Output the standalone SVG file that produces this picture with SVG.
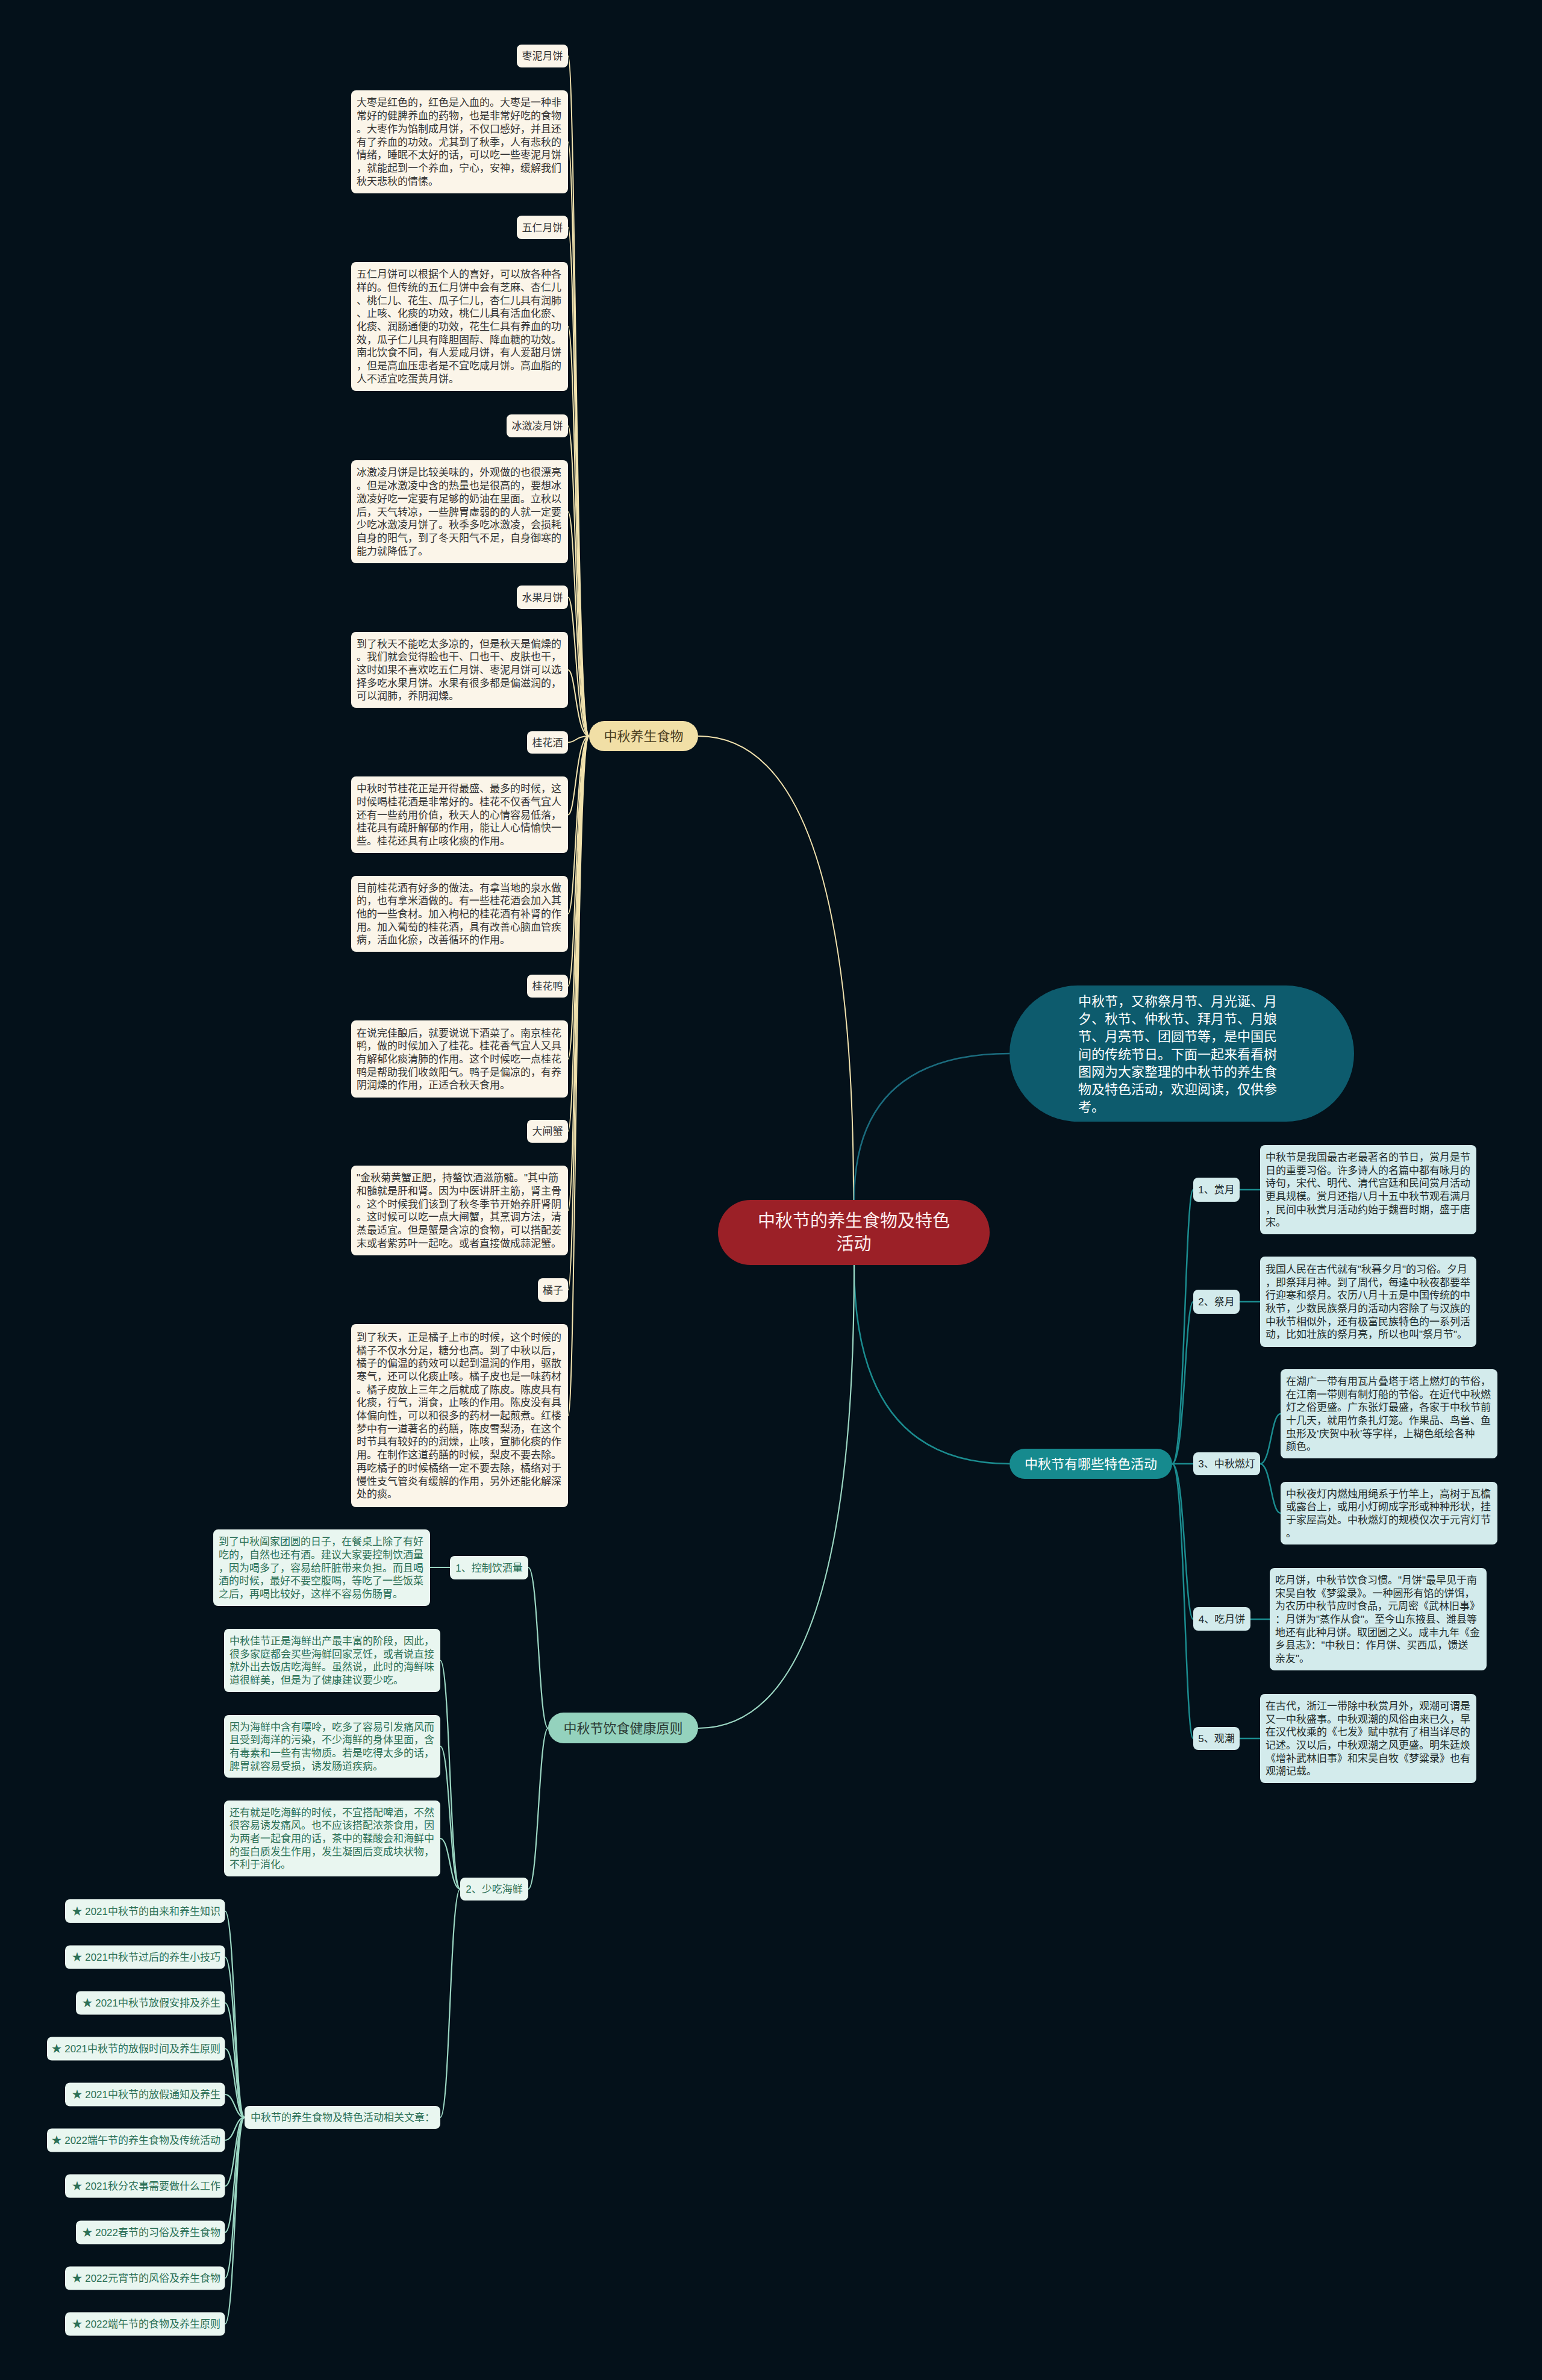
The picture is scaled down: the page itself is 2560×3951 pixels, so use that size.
<svg xmlns="http://www.w3.org/2000/svg" width="2560" height="3951" viewBox="0 0 2560 3951">
<style>
text{font-family:'Liberation Sans','Noto Sans CJK SC',sans-serif;}
.t17{font-size:17px;}
.food-box{fill:#fbf5e9;}
.food-t{fill:#333333;font-size:17px;}
.act-box{fill:#d3ebec;}
.act-t{fill:#1f2b2b;font-size:17px;}
.hl-box{fill:#e9f6f0;}
.hl-t{fill:#2c7056;font-size:17px;}
.c-food{fill:none;stroke:#f1e2ae;stroke-width:2;}
.c-act{fill:none;stroke:#1b8c8f;stroke-width:2.5;}
.c-intro{fill:none;stroke:#1b6c7e;stroke-width:2.5;}
.c-hl{fill:none;stroke:#9bd6c2;stroke-width:2.2;}
</style>
<rect x="0" y="0" width="2560" height="3951" fill="#04111a"/>

<g id="connectors">
  <path class="c-food" d="M1417,1992 Q1417,1222 1159,1222"/>
  <path class="c-intro" d="M1418,1992 Q1418,1749 1676,1749"/>
  <path class="c-act" d="M1418,2100 Q1418,2430 1676,2430"/>
  <path class="c-hl" d="M1418,2100 Q1418,2869 1159,2869"/>

  <path class="c-food" d="M978,1222 C956,1222 956,93 943,93"/>
  <path class="c-food" d="M978,1222 C956,1222 956,235.5 943,235.5"/>
  <path class="c-food" d="M978,1222 C956,1222 956,377.5 943,377.5"/>
  <path class="c-food" d="M978,1222 C956,1222 956,542 943,542"/>
  <path class="c-food" d="M978,1222 C956,1222 956,707 943,707"/>
  <path class="c-food" d="M978,1222 C956,1222 956,849.5 943,849.5"/>
  <path class="c-food" d="M978,1222 C956,1222 956,991.5 943,991.5"/>
  <path class="c-food" d="M978,1222 C956,1222 956,1112 943,1112"/>
  <path class="c-food" d="M978,1222 C956,1222 956,1232.5 943,1232.5"/>
  <path class="c-food" d="M978,1222 C956,1222 956,1352.5 943,1352.5"/>
  <path class="c-food" d="M978,1222 C956,1222 956,1517 943,1517"/>
  <path class="c-food" d="M978,1222 C956,1222 956,1637 943,1637"/>
  <path class="c-food" d="M978,1222 C956,1222 956,1758 943,1758"/>
  <path class="c-food" d="M978,1222 C956,1222 956,1878 943,1878"/>
  <path class="c-food" d="M978,1222 C956,1222 956,2009.5 943,2009.5"/>
  <path class="c-food" d="M978,1222 C956,1222 956,2141.5 943,2141.5"/>
  <path class="c-food" d="M978,1222 C956,1222 956,2350 943,2350"/>

  <path class="c-act" d="M1946,2430 C1967,2430 1967,1975 1981,1975"/>
  <path class="c-act" d="M1946,2430 C1967,2430 1967,2161 1981,2161"/>
  <path class="c-act" d="M1946,2430 L1981,2430"/>
  <path class="c-act" d="M1946,2430 C1967,2430 1967,2688 1981,2688"/>
  <path class="c-act" d="M1946,2430 C1967,2430 1967,2886 1981,2886"/>
  <path class="c-act" d="M2058,1975 L2092,1975"/>
  <path class="c-act" d="M2058,2161 L2092,2161"/>
  <path class="c-act" d="M2092,2430 C2110,2430 2110,2347 2126,2347"/>
  <path class="c-act" d="M2092,2430 C2110,2430 2110,2512 2126,2512"/>
  <path class="c-act" d="M2076,2688 L2108,2688"/>
  <path class="c-act" d="M2058,2886 L2092,2886"/>

  <path class="c-hl" d="M910,2869 C894,2869 894,2602 877,2602"/>
  <path class="c-hl" d="M910,2869 C894,2869 894,3136 877,3136"/>
  <path class="c-hl" d="M747,2602 L714,2602"/>
  <path class="c-hl" d="M764,3136 C747,3136 747,2756.5 731,2756.5"/>
  <path class="c-hl" d="M764,3136 C747,3136 747,2899 731,2899"/>
  <path class="c-hl" d="M764,3136 C747,3136 747,3052 731,3052"/>
  <path class="c-hl" d="M764,3136 C747,3136 747,3515 731,3515"/>
  <path class="c-hl" d="M406,3515 C390,3515 390,3172.5 373.5,3172.5"/>
  <path class="c-hl" d="M406,3515 C390,3515 390,3249 373.5,3249"/>
  <path class="c-hl" d="M406,3515 C390,3515 390,3325 373.5,3325"/>
  <path class="c-hl" d="M406,3515 C390,3515 390,3401 373.5,3401"/>
  <path class="c-hl" d="M406,3515 C390,3515 390,3477 373.5,3477"/>
  <path class="c-hl" d="M406,3515 C390,3515 390,3553 373.5,3553"/>
  <path class="c-hl" d="M406,3515 C390,3515 390,3629 373.5,3629"/>
  <path class="c-hl" d="M406,3515 C390,3515 390,3706 373.5,3706"/>
  <path class="c-hl" d="M406,3515 C390,3515 390,3782 373.5,3782"/>
  <path class="c-hl" d="M406,3515 C390,3515 390,3858 373.5,3858"/>
</g>

<g id="main">
  <rect x="1192" y="1992" width="451" height="108" rx="54" fill="#9b2027"/>
  <text x="1417.5" y="2037" font-size="29" fill="#fdeeee" text-anchor="middle">中秋节的养生食物及特色</text>
  <text x="1417.5" y="2075" font-size="29" fill="#fdeeee" text-anchor="middle">活动</text>
</g>

<g id="intro">
  <rect x="1676" y="1636" width="572" height="226" rx="113" fill="#0d5b6d"/>
  <text font-size="22" fill="#ffffff">
    <tspan x="1790" y="1670">中秋节，又称祭月节、月光诞、月</tspan>
    <tspan x="1790" dy="29.2">夕、秋节、仲秋节、拜月节、月娘</tspan>
    <tspan x="1790" dy="29.2">节、月亮节、团圆节等，是中国民</tspan>
    <tspan x="1790" dy="29.2">间的传统节日。下面一起来看看树</tspan>
    <tspan x="1790" dy="29.2">图网为大家整理的中秋节的养生食</tspan>
    <tspan x="1790" dy="29.2">物及特色活动，欢迎阅读，仅供参</tspan>
    <tspan x="1790" dy="29.2">考。</tspan>
  </text>
</g>

<g id="food">
  <rect x="978" y="1197" width="181" height="50" rx="25" fill="#f1dfa6"/>
  <text x="1068.5" y="1230" font-size="22" fill="#4a3d1e" text-anchor="middle">中秋养生食物</text>
</g>

<g id="food-zaoni">
  <rect class="food-box" x="858" y="74" width="85" height="38" rx="8"/>
  <text class="food-t" x="900.5" y="99" text-anchor="middle">枣泥月饼</text>
</g>
<g id="food-zaoni-text">
  <rect class="food-box" x="583" y="150" width="360" height="171" rx="8"/>
  <text class="food-t">
    <tspan x="592" y="176.4">大枣是红色的，红色是入血的。大枣是一种非</tspan>
    <tspan x="592" dy="21.7">常好的健脾养血的药物，也是非常好吃的食物</tspan>
    <tspan x="592" dy="21.7">。大枣作为馅制成月饼，不仅口感好，并且还</tspan>
    <tspan x="592" dy="21.7">有了养血的功效。尤其到了秋季，人有悲秋的</tspan>
    <tspan x="592" dy="21.7">情绪，睡眠不太好的话，可以吃一些枣泥月饼</tspan>
    <tspan x="592" dy="21.7">，就能起到一个养血，宁心，安神，缓解我们</tspan>
    <tspan x="592" dy="21.7">秋天悲秋的情愫。</tspan>
  </text>
</g>
<g id="food-wuren">
  <rect class="food-box" x="858" y="358" width="85" height="39" rx="8"/>
  <text class="food-t" x="900.5" y="383.5" text-anchor="middle">五仁月饼</text>
</g>
<g id="food-wuren-text">
  <rect class="food-box" x="583" y="435" width="360" height="214" rx="8"/>
  <text class="food-t">
    <tspan x="592" y="461.2">五仁月饼可以根据个人的喜好，可以放各种各</tspan>
    <tspan x="592" dy="21.7">样的。但传统的五仁月饼中会有芝麻、杏仁儿</tspan>
    <tspan x="592" dy="21.7">、桃仁儿、花生、瓜子仁儿，杏仁儿具有润肺</tspan>
    <tspan x="592" dy="21.7">、止咳、化痰的功效，桃仁儿具有活血化瘀、</tspan>
    <tspan x="592" dy="21.7">化痰、润肠通便的功效，花生仁具有养血的功</tspan>
    <tspan x="592" dy="21.7">效，瓜子仁儿具有降胆固醇、降血糖的功效。</tspan>
    <tspan x="592" dy="21.7">南北饮食不同，有人爱咸月饼，有人爱甜月饼</tspan>
    <tspan x="592" dy="21.7">，但是高血压患者是不宜吃咸月饼。高血脂的</tspan>
    <tspan x="592" dy="21.7">人不适宜吃蛋黄月饼。</tspan>
  </text>
</g>
<g id="food-bingjiling">
  <rect class="food-box" x="841" y="688" width="102" height="38" rx="8"/>
  <text class="food-t" x="892" y="713" text-anchor="middle">冰激凌月饼</text>
</g>
<g id="food-bingjiling-text">
  <rect class="food-box" x="583" y="764" width="360" height="171" rx="8"/>
  <text class="food-t">
    <tspan x="592" y="790.4">冰激凌月饼是比较美味的，外观做的也很漂亮</tspan>
    <tspan x="592" dy="21.7">。但是冰激凌中含的热量也是很高的，要想冰</tspan>
    <tspan x="592" dy="21.7">激凌好吃一定要有足够的奶油在里面。立秋以</tspan>
    <tspan x="592" dy="21.7">后，天气转凉，一些脾胃虚弱的的人就一定要</tspan>
    <tspan x="592" dy="21.7">少吃冰激凌月饼了。秋季多吃冰激凌，会损耗</tspan>
    <tspan x="592" dy="21.7">自身的阳气，到了冬天阳气不足，自身御寒的</tspan>
    <tspan x="592" dy="21.7">能力就降低了。</tspan>
  </text>
</g>
<g id="food-shuiguo">
  <rect class="food-box" x="858" y="972" width="85" height="39" rx="8"/>
  <text class="food-t" x="900.5" y="997.5" text-anchor="middle">水果月饼</text>
</g>
<g id="food-shuiguo-text">
  <rect class="food-box" x="583" y="1049" width="360" height="126" rx="8"/>
  <text class="food-t">
    <tspan x="592" y="1074.6">到了秋天不能吃太多凉的，但是秋天是偏燥的</tspan>
    <tspan x="592" dy="21.7">。我们就会觉得脸也干、口也干、皮肤也干，</tspan>
    <tspan x="592" dy="21.7">这时如果不喜欢吃五仁月饼、枣泥月饼可以选</tspan>
    <tspan x="592" dy="21.7">择多吃水果月饼。水果有很多都是偏滋润的，</tspan>
    <tspan x="592" dy="21.7">可以润肺，养阴润燥。</tspan>
  </text>
</g>
<g id="food-guihuajiu">
  <rect class="food-box" x="875" y="1214" width="68" height="37" rx="8"/>
  <text class="food-t" x="909" y="1238.5" text-anchor="middle">桂花酒</text>
</g>
<g id="food-guihuajiu-text1">
  <rect class="food-box" x="583" y="1289" width="360" height="127" rx="8"/>
  <text class="food-t">
    <tspan x="592" y="1315.1">中秋时节桂花正是开得最盛、最多的时候，这</tspan>
    <tspan x="592" dy="21.7">时候喝桂花酒是非常好的。桂花不仅香气宜人</tspan>
    <tspan x="592" dy="21.7">还有一些药用价值，秋天人的心情容易低落，</tspan>
    <tspan x="592" dy="21.7">桂花具有疏肝解郁的作用，能让人心情愉快一</tspan>
    <tspan x="592" dy="21.7">些。桂花还具有止咳化痰的作用。</tspan>
  </text>
</g>
<g id="food-guihuajiu-text2">
  <rect class="food-box" x="583" y="1454" width="360" height="126" rx="8"/>
  <text class="food-t">
    <tspan x="592" y="1479.6">目前桂花酒有好多的做法。有拿当地的泉水做</tspan>
    <tspan x="592" dy="21.7">的，也有拿米酒做的。有一些桂花酒会加入其</tspan>
    <tspan x="592" dy="21.7">他的一些食材。加入枸杞的桂花酒有补肾的作</tspan>
    <tspan x="592" dy="21.7">用。加入葡萄的桂花酒，具有改善心脑血管疾</tspan>
    <tspan x="592" dy="21.7">病，活血化瘀，改善循环的作用。</tspan>
  </text>
</g>
<g id="food-guihuaya">
  <rect class="food-box" x="875" y="1618" width="68" height="38" rx="8"/>
  <text class="food-t" x="909" y="1643" text-anchor="middle">桂花鸭</text>
</g>
<g id="food-guihuaya-text">
  <rect class="food-box" x="583" y="1694" width="360" height="128" rx="8"/>
  <text class="food-t">
    <tspan x="592" y="1720.6">在说完佳酿后，就要说说下酒菜了。南京桂花</tspan>
    <tspan x="592" dy="21.7">鸭，做的时候加入了桂花。桂花香气宜人又具</tspan>
    <tspan x="592" dy="21.7">有解郁化痰清肺的作用。这个时候吃一点桂花</tspan>
    <tspan x="592" dy="21.7">鸭是帮助我们收敛阳气。鸭子是偏凉的，有养</tspan>
    <tspan x="592" dy="21.7">阴润燥的作用，正适合秋天食用。</tspan>
  </text>
</g>
<g id="food-dazhaxie">
  <rect class="food-box" x="875" y="1859" width="68" height="38" rx="8"/>
  <text class="food-t" x="909" y="1884" text-anchor="middle">大闸蟹</text>
</g>
<g id="food-dazhaxie-text">
  <rect class="food-box" x="583" y="1935" width="360" height="149" rx="8"/>
  <text class="food-t">
    <tspan x="592" y="1961.3">"金秋菊黄蟹正肥，持螯饮酒滋筋髓。"其中筋</tspan>
    <tspan x="592" dy="21.7">和髓就是肝和肾。因为中医讲肝主筋，肾主骨</tspan>
    <tspan x="592" dy="21.7">。这个时候我们该到了秋冬季节开始养肝肾阴</tspan>
    <tspan x="592" dy="21.7">。这时候可以吃一点大闸蟹，其烹调方法，清</tspan>
    <tspan x="592" dy="21.7">蒸最适宜。但是蟹是含凉的食物，可以搭配姜</tspan>
    <tspan x="592" dy="21.7">末或者紫苏叶一起吃。或者直接做成蒜泥蟹。</tspan>
  </text>
</g>
<g id="food-juzi">
  <rect class="food-box" x="893" y="2122" width="50" height="39" rx="8"/>
  <text class="food-t" x="918" y="2147.5" text-anchor="middle">橘子</text>
</g>
<g id="food-juzi-text">
  <rect class="food-box" x="583" y="2198" width="360" height="304" rx="8"/>
  <text class="food-t">
    <tspan x="592" y="2225.8">到了秋天，正是橘子上市的时候，这个时候的</tspan>
    <tspan x="592" dy="21.7">橘子不仅水分足，糖分也高。到了中秋以后，</tspan>
    <tspan x="592" dy="21.7">橘子的偏温的药效可以起到温润的作用，驱散</tspan>
    <tspan x="592" dy="21.7">寒气，还可以化痰止咳。橘子皮也是一味药材</tspan>
    <tspan x="592" dy="21.7">。橘子皮放上三年之后就成了陈皮。陈皮具有</tspan>
    <tspan x="592" dy="21.7">化痰，行气，消食，止咳的作用。陈皮没有具</tspan>
    <tspan x="592" dy="21.7">体偏向性，可以和很多的药材一起煎煮。红楼</tspan>
    <tspan x="592" dy="21.7">梦中有一道著名的药膳，陈皮雪梨汤，在这个</tspan>
    <tspan x="592" dy="21.7">时节具有较好的的润燥，止咳，宣肺化痰的作</tspan>
    <tspan x="592" dy="21.7">用。在制作这道药膳的时候，梨皮不要去除。</tspan>
    <tspan x="592" dy="21.7">再吃橘子的时候橘络一定不要去除，橘络对于</tspan>
    <tspan x="592" dy="21.7">慢性支气管炎有缓解的作用，另外还能化解深</tspan>
    <tspan x="592" dy="21.7">处的痰。</tspan>
  </text>
</g>

<g id="activities">
  <rect x="1676" y="2405" width="270" height="50" rx="25" fill="#168a8e"/>
  <text x="1811" y="2438" font-size="22" fill="#ffffff" text-anchor="middle">中秋节有哪些特色活动</text>
</g>
<g id="act-shangyue">
  <rect class="act-box" x="1981" y="1955" width="77" height="40" rx="8"/>
  <text class="act-t" x="2019.5" y="1981" text-anchor="middle">1、赏月</text>
</g>
<g id="act-shangyue-text">
  <rect class="act-box" x="2092" y="1901" width="359" height="148" rx="8"/>
  <text class="act-t">
    <tspan x="2101" y="1926.8">中秋节是我国最古老最著名的节日，赏月是节</tspan>
    <tspan x="2101" dy="21.7">日的重要习俗。许多诗人的名篇中都有咏月的</tspan>
    <tspan x="2101" dy="21.7">诗句，宋代、明代、清代宫廷和民间赏月活动</tspan>
    <tspan x="2101" dy="21.7">更具规模。赏月还指八月十五中秋节观看满月</tspan>
    <tspan x="2101" dy="21.7">，民间中秋赏月活动约始于魏晋时期，盛于唐</tspan>
    <tspan x="2101" dy="21.7">宋。</tspan>
  </text>
</g>
<g id="act-jiyue">
  <rect class="act-box" x="1981" y="2141" width="77" height="40" rx="8"/>
  <text class="act-t" x="2019.5" y="2167" text-anchor="middle">2、祭月</text>
</g>
<g id="act-jiyue-text">
  <rect class="act-box" x="2092" y="2086" width="359" height="150" rx="8"/>
  <text class="act-t">
    <tspan x="2101" y="2112.8">我国人民在古代就有"秋暮夕月"的习俗。夕月</tspan>
    <tspan x="2101" dy="21.7">，即祭拜月神。到了周代，每逢中秋夜都要举</tspan>
    <tspan x="2101" dy="21.7">行迎寒和祭月。农历八月十五是中国传统的中</tspan>
    <tspan x="2101" dy="21.7">秋节，少数民族祭月的活动内容除了与汉族的</tspan>
    <tspan x="2101" dy="21.7">中秋节相似外，还有极富民族特色的一系列活</tspan>
    <tspan x="2101" dy="21.7">动，比如壮族的祭月亮，所以也叫"祭月节"。</tspan>
  </text>
</g>
<g id="act-randeng">
  <rect class="act-box" x="1981" y="2411" width="111" height="38" rx="8"/>
  <text class="act-t" x="2036.5" y="2436" text-anchor="middle">3、中秋燃灯</text>
</g>
<g id="act-randeng-text1">
  <rect class="act-box" x="2126" y="2273" width="360" height="148" rx="8"/>
  <text class="act-t">
    <tspan x="2135" y="2298.8">在湖广一带有用瓦片叠塔于塔上燃灯的节俗，</tspan>
    <tspan x="2135" dy="21.7">在江南一带则有制灯船的节俗。在近代中秋燃</tspan>
    <tspan x="2135" dy="21.7">灯之俗更盛。广东张灯最盛，各家于中秋节前</tspan>
    <tspan x="2135" dy="21.7">十几天，就用竹条扎灯笼。作果品、鸟兽、鱼</tspan>
    <tspan x="2135" dy="21.7">虫形及‘庆贺中秋’等字样，上糊色纸绘各种</tspan>
    <tspan x="2135" dy="21.7">颜色。</tspan>
  </text>
</g>
<g id="act-randeng-text2">
  <rect class="act-box" x="2126" y="2460" width="360" height="104" rx="8"/>
  <text class="act-t">
    <tspan x="2135" y="2485.5">中秋夜灯内燃烛用绳系于竹竿上，高树于瓦檐</tspan>
    <tspan x="2135" dy="21.7">或露台上，或用小灯砌成字形或种种形状，挂</tspan>
    <tspan x="2135" dy="21.7">于家屋高处。中秋燃灯的规模仅次于元宵灯节</tspan>
    <tspan x="2135" dy="21.7">。</tspan>
  </text>
</g>
<g id="act-yuebing">
  <rect class="act-box" x="1981" y="2668" width="95" height="39" rx="8"/>
  <text class="act-t" x="2028.5" y="2693.5" text-anchor="middle">4、吃月饼</text>
</g>
<g id="act-yuebing-text">
  <rect class="act-box" x="2108" y="2603" width="360" height="170" rx="8"/>
  <text class="act-t">
    <tspan x="2117" y="2628.9">吃月饼，中秋节饮食习惯。"月饼"最早见于南</tspan>
    <tspan x="2117" dy="21.7">宋吴自牧《梦粱录》。一种圆形有馅的饼饵，</tspan>
    <tspan x="2117" dy="21.7">为农历中秋节应时食品，元周密《武林旧事》</tspan>
    <tspan x="2117" dy="21.7">：月饼为"蒸作从食"。至今山东掖县、潍县等</tspan>
    <tspan x="2117" dy="21.7">地还有此种月饼。取团圆之义。咸丰九年《金</tspan>
    <tspan x="2117" dy="21.7">乡县志》："中秋日：作月饼、买西瓜，馈送</tspan>
    <tspan x="2117" dy="21.7">亲友"。</tspan>
  </text>
</g>
<g id="act-guanchao">
  <rect class="act-box" x="1981" y="2867" width="77" height="38" rx="8"/>
  <text class="act-t" x="2019.5" y="2892" text-anchor="middle">5、观潮</text>
</g>
<g id="act-guanchao-text">
  <rect class="act-box" x="2092" y="2812" width="359" height="148" rx="8"/>
  <text class="act-t">
    <tspan x="2101" y="2837.8">在古代，浙江一带除中秋赏月外，观潮可谓是</tspan>
    <tspan x="2101" dy="21.7">又一中秋盛事。中秋观潮的风俗由来已久，早</tspan>
    <tspan x="2101" dy="21.7">在汉代枚乘的《七发》赋中就有了相当详尽的</tspan>
    <tspan x="2101" dy="21.7">记述。汉以后，中秋观潮之风更盛。明朱廷焕</tspan>
    <tspan x="2101" dy="21.7">《增补武林旧事》和宋吴自牧《梦粱录》也有</tspan>
    <tspan x="2101" dy="21.7">观潮记载。</tspan>
  </text>
</g>

<g id="health">
  <rect x="910" y="2843" width="249" height="51" rx="25.5" fill="#94d2bd"/>
  <text x="1034.5" y="2877" font-size="22" fill="#2b3a35" text-anchor="middle">中秋节饮食健康原则</text>
</g>
<g id="hl-jiu">
  <rect class="hl-box" x="747" y="2583" width="130" height="39" rx="8"/>
  <text class="hl-t" x="812" y="2608.5" text-anchor="middle">1、控制饮酒量</text>
</g>
<g id="hl-jiu-text">
  <rect class="hl-box" x="354" y="2539" width="360" height="127" rx="8"/>
  <text class="hl-t">
    <tspan x="363" y="2565.1">到了中秋阖家团圆的日子，在餐桌上除了有好</tspan>
    <tspan x="363" dy="21.7">吃的，自然也还有酒。建议大家要控制饮酒量</tspan>
    <tspan x="363" dy="21.7">，因为喝多了，容易给肝脏带来负担。而且喝</tspan>
    <tspan x="363" dy="21.7">酒的时候，最好不要空腹喝，等吃了一些饭菜</tspan>
    <tspan x="363" dy="21.7">之后，再喝比较好，这样不容易伤肠胃。</tspan>
  </text>
</g>
<g id="hl-haixian">
  <rect class="hl-box" x="764" y="3117" width="113" height="38" rx="8"/>
  <text class="hl-t" x="820.5" y="3142" text-anchor="middle">2、少吃海鲜</text>
</g>
<g id="hl-haixian-text1">
  <rect class="hl-box" x="372" y="2704" width="359" height="105" rx="8"/>
  <text class="hl-t">
    <tspan x="381" y="2730">中秋佳节正是海鲜出产最丰富的阶段，因此，</tspan>
    <tspan x="381" dy="21.7">很多家庭都会买些海鲜回家烹饪，或者说直接</tspan>
    <tspan x="381" dy="21.7">就外出去饭店吃海鲜。虽然说，此时的海鲜味</tspan>
    <tspan x="381" dy="21.7">道很鲜美，但是为了健康建议要少吃。</tspan>
  </text>
</g>
<g id="hl-haixian-text2">
  <rect class="hl-box" x="372" y="2847" width="359" height="104" rx="8"/>
  <text class="hl-t">
    <tspan x="381" y="2872.5">因为海鲜中含有嘌呤，吃多了容易引发痛风而</tspan>
    <tspan x="381" dy="21.7">且受到海洋的污染，不少海鲜的身体里面，含</tspan>
    <tspan x="381" dy="21.7">有毒素和一些有害物质。若是吃得太多的话，</tspan>
    <tspan x="381" dy="21.7">脾胃就容易受损，诱发肠道疾病。</tspan>
  </text>
</g>
<g id="hl-haixian-text3">
  <rect class="hl-box" x="372" y="2989" width="359" height="126" rx="8"/>
  <text class="hl-t">
    <tspan x="381" y="3014.6">还有就是吃海鲜的时候，不宜搭配啤酒，不然</tspan>
    <tspan x="381" dy="21.7">很容易诱发痛风。也不应该搭配浓茶食用，因</tspan>
    <tspan x="381" dy="21.7">为两者一起食用的话，茶中的鞣酸会和海鲜中</tspan>
    <tspan x="381" dy="21.7">的蛋白质发生作用，发生凝固后变成块状物，</tspan>
    <tspan x="381" dy="21.7">不利于消化。</tspan>
  </text>
</g>
<g id="hl-related">
  <rect class="hl-box" x="406" y="3496" width="325" height="38" rx="8"/>
  <text class="hl-t" x="416" y="3521">中秋节的养生食物及特色活动相关文章：</text>
</g>
<g id="art-1"><rect class="hl-box" x="108" y="3153" width="265.5" height="39" rx="8"/><text class="hl-t" x="366" y="3178.5" text-anchor="end">★ 2021中秋节的由来和养生知识</text></g>
<g id="art-2"><rect class="hl-box" x="108" y="3229.5" width="265.5" height="39" rx="8"/><text class="hl-t" x="366" y="3255" text-anchor="end">★ 2021中秋节过后的养生小技巧</text></g>
<g id="art-3"><rect class="hl-box" x="126" y="3305.5" width="247.5" height="39" rx="8"/><text class="hl-t" x="366" y="3331" text-anchor="end">★ 2021中秋节放假安排及养生</text></g>
<g id="art-4"><rect class="hl-box" x="78" y="3381.5" width="295.5" height="39" rx="8"/><text class="hl-t" x="366" y="3407" text-anchor="end">★ 2021中秋节的放假时间及养生原则</text></g>
<g id="art-5"><rect class="hl-box" x="108" y="3457.5" width="265.5" height="39" rx="8"/><text class="hl-t" x="366" y="3483" text-anchor="end">★ 2021中秋节的放假通知及养生</text></g>
<g id="art-6"><rect class="hl-box" x="78" y="3533.5" width="295.5" height="39" rx="8"/><text class="hl-t" x="366" y="3559" text-anchor="end">★ 2022端午节的养生食物及传统活动</text></g>
<g id="art-7"><rect class="hl-box" x="108" y="3609.5" width="265.5" height="39" rx="8"/><text class="hl-t" x="366" y="3635" text-anchor="end">★ 2021秋分农事需要做什么工作</text></g>
<g id="art-8"><rect class="hl-box" x="126" y="3686.5" width="247.5" height="39" rx="8"/><text class="hl-t" x="366" y="3712" text-anchor="end">★ 2022春节的习俗及养生食物</text></g>
<g id="art-9"><rect class="hl-box" x="108" y="3762.5" width="265.5" height="39" rx="8"/><text class="hl-t" x="366" y="3788" text-anchor="end">★ 2022元宵节的风俗及养生食物</text></g>
<g id="art-10"><rect class="hl-box" x="108" y="3838.5" width="265.5" height="39" rx="8"/><text class="hl-t" x="366" y="3864" text-anchor="end">★ 2022端午节的食物及养生原则</text></g>
</svg>
